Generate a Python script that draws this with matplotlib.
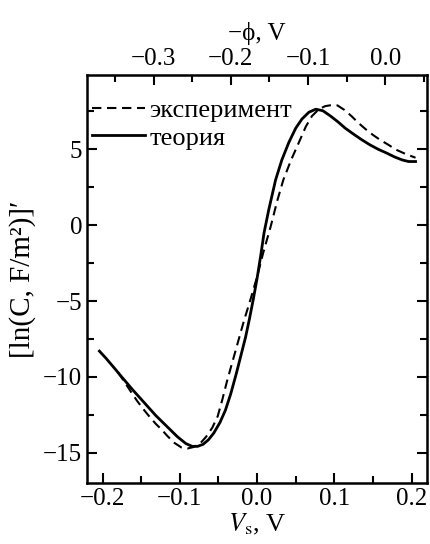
import matplotlib
matplotlib.use("Agg")
import matplotlib.pyplot as plt
from matplotlib.ticker import MultipleLocator, FixedLocator

plt.rcParams['font.family'] = ['Liberation Serif', 'DejaVu Serif']
plt.rcParams['mathtext.fontset'] = 'stix'

# theory curve (solid)
vs_theory = [-0.204, -0.195, -0.185, -0.176, -0.161, -0.146, -0.131, -0.116, -0.103, -0.092,
             -0.084, -0.077, -0.070, -0.063, -0.056, -0.048, -0.041, -0.034, -0.027, -0.021,
             -0.015, -0.010, -0.005, 0.0, 0.005, 0.009, 0.015, 0.024, 0.032, 0.041,
             0.050, 0.058, 0.067, 0.076, 0.085, 0.095, 0.105, 0.114, 0.125, 0.135,
             0.146, 0.157, 0.168, 0.178, 0.188, 0.196, 0.205]
d_theory = [-8.3, -8.8, -9.4, -9.95, -10.85, -11.7, -12.55, -13.3, -13.95, -14.4,
            -14.58, -14.58, -14.45, -14.15, -13.7, -13.0, -12.2, -11.1, -9.8, -8.6,
            -7.4, -6.2, -4.9, -3.5, -1.9, -0.5, 1.0, 3.0, 4.3, 5.45,
            6.4, 7.0, 7.45, 7.65, 7.55, 7.2, 6.8, 6.4, 6.0, 5.65,
            5.3, 5.0, 4.75, 4.5, 4.3, 4.2, 4.2]

# experiment curve (dashed)
vs_exp = [-0.180, -0.172, -0.163, -0.155, -0.146, -0.138, -0.131, -0.123, -0.116, -0.107,
          -0.098, -0.090, -0.082, -0.073, -0.066, -0.058, -0.051, -0.045, -0.039, -0.033,
          -0.028, -0.022, -0.017, -0.008, 0.0, 0.008, 0.0175, 0.026, 0.034, 0.044,
          0.054, 0.063, 0.071, 0.080, 0.088, 0.096, 0.104, 0.113, 0.122, 0.131,
          0.140, 0.150, 0.160, 0.170, 0.179, 0.192, 0.205]
d_exp = [-9.7, -10.3, -11.0, -11.6, -12.2, -12.7, -13.1, -13.5, -13.9, -14.35,
         -14.65, -14.72, -14.62, -14.35, -13.95, -13.35, -12.6, -11.5, -10.3, -9.2,
         -8.3, -7.2, -6.3, -4.8, -3.4, -1.8, -0.1, 1.6, 3.0, 4.3,
         5.45, 6.5, 7.2, 7.65, 7.85, 7.92, 7.9, 7.6, 7.2, 6.75,
         6.35, 5.95, 5.6, 5.3, 5.0, 4.7, 4.45]

phi_ticks = [-0.3, -0.2, -0.1, 0.0]
phi_minor = [-0.35, -0.25, -0.15, -0.05, 0.05]
phi_shift = 0.166  # -phi = Vs - shift

fig = plt.figure(figsize=(4.31, 5.44), dpi=100)
ax = fig.add_axes([0.202, 0.112, 0.789, 0.750])

ax.plot(vs_exp, d_exp, color='black', lw=1.5, ls=(0, (4.5, 2.7)), label='эксперимент')
ax.plot(vs_theory, d_theory, color='black', lw=2.0, label='теория')

ax.set_xlim(-0.22, 0.22)
ax.set_ylim(-17, 9.9)

ax.xaxis.set_major_locator(MultipleLocator(0.1))
ax.xaxis.set_minor_locator(MultipleLocator(0.05))
ax.yaxis.set_major_locator(MultipleLocator(5))
ax.yaxis.set_minor_locator(MultipleLocator(2.5))
ax.xaxis.set_major_formatter(lambda v, p: f"{v:.1f}".replace('-', '\u2212'))
ax.yaxis.set_major_formatter(lambda v, p: f"{v:.0f}".replace('-', '\u2212'))

ax.tick_params(which='both', direction='in', right=True, top=False, width=1.5, labelsize=18)
ax.tick_params(which='major', length=7)
ax.tick_params(which='minor', length=5)
for s in ax.spines.values():
    s.set_linewidth(1.8)

sec = ax.secondary_xaxis('top', functions=(lambda v: v - phi_shift, lambda p: p + phi_shift))
sec.xaxis.set_major_locator(FixedLocator(phi_ticks))
sec.xaxis.set_minor_locator(FixedLocator(phi_minor))
sec.xaxis.set_major_formatter(lambda v, p: f"{v:.1f}".replace('-', '\u2212'))
sec.tick_params(which='both', direction='in', width=1.5, labelsize=18)
sec.tick_params(which='major', length=7)
sec.tick_params(which='minor', length=5)
sec.set_xlabel('\u2212\u03d5, V', fontsize=18, labelpad=6)

ax.set_xlabel(r'$V_\mathrm{s}$, V', fontsize=19, labelpad=1)
ax.set_ylabel('[ln(C, F/m\u00b2)]\u2032', fontsize=21, labelpad=5)

ax.legend(loc='upper left', frameon=False, fontsize=19, handlelength=2.0,
          handletextpad=0.15, borderaxespad=0.0, borderpad=0.2, labelspacing=0.15,
          bbox_to_anchor=(0.0, 0.955))

fig.savefig('out.png', dpi=100)
